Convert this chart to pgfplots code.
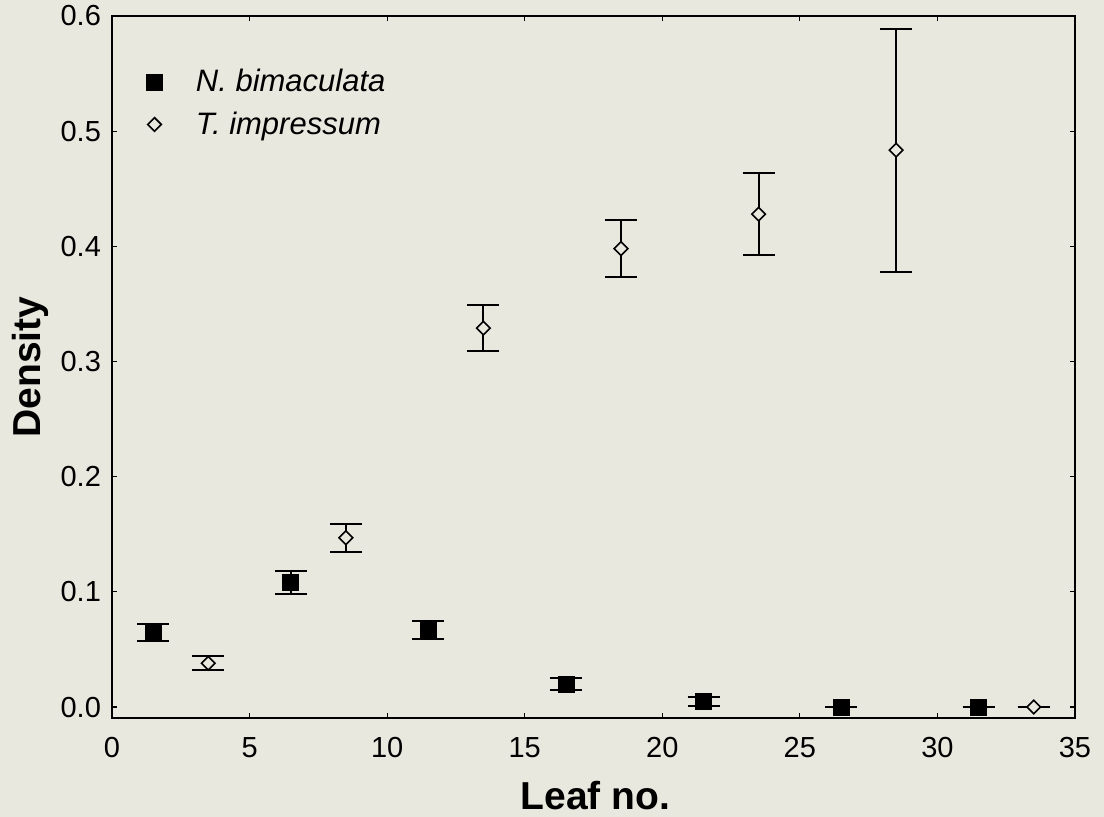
\documentclass[border=0pt]{standalone}
\usepackage{pgfplots}
\pgfplotsset{compat=1.18}
\usepackage{fontspec}
\setmainfont{Liberation Sans}
\usetikzlibrary{backgrounds}
\definecolor{bgc}{RGB}{232,232,223}

% N. bimaculata: x, mean, error
\pgfplotstableread{
x y e
1.5 0.065 0.0075
6.5 0.108 0.010
11.5 0.067 0.008
16.5 0.020 0.005
21.5 0.005 0.004
26.5 0.000 0.000
31.5 0.000 0.000
}\nbim
% T. impressum
\pgfplotstableread{
x y e
3.5 0.038 0.006
8.5 0.147 0.012
13.5 0.329 0.020
18.5 0.398 0.025
23.5 0.428 0.0355
28.5 0.4835 0.1055
33.5 0.000 0.000
}\timp

\begin{document}
\begin{tikzpicture}
\useasboundingbox (-56pt,-49.5pt) rectangle (496pt,359pt);
\begin{axis}[
  scale only axis,
  width=481.5pt, height=351pt,
  xmin=0, xmax=35, ymin=-0.0095, ymax=0.6,
  xtick={0,5,...,35},
  ytick={0,0.1,...,0.6},
  axis line style={line width=1pt},
  tick align=inside,
  major tick length=2.5pt,
  tick style={black, line width=0.6pt},
  tick label style={font=\fontsize{14.5}{17}\selectfont},
  /pgf/number format/assume math mode=true,
  yticklabel style={xshift=-2pt, /pgf/number format/fixed, /pgf/number format/fixed zerofill, /pgf/number format/precision=1},
  xticklabel style={yshift=-6pt},
  xlabel={Leaf no.}, ylabel={Density},
  every axis x label/.style={at={(axis description cs:0.502,-0.11)}, anchor=center, font=\fontsize{19.5}{23}\selectfont\bfseries},
  every axis y label/.style={at={(axis description cs:-0.085,0.5)}, rotate=90, anchor=center, font=\fontsize{19.5}{23}\selectfont\bfseries},
  legend style={draw=none, fill=none, at={(axis cs:0.68,0.561)}, anchor=north west,
    font=\fontsize{15.5}{18}\selectfont\itshape, row sep=4.5pt},
  legend cell align=left,
  legend image code/.code={\path (0cm,0cm) (0.95cm,0cm); \draw[#1] plot coordinates {(0.3cm,0cm)};},
  clip=false,
]
\addplot[only marks, mark=square*, mark size=4pt, mark options={black, fill=black},
  error bars/.cd, y dir=both, y explicit,
  error bar style={black, line width=1pt},
  error mark options={rotate=90, mark size=8pt, line width=1pt, black}]
  table[x=x, y=y, y error=e] {\nbim};
\addlegendentry{N. bimaculata}
\addplot[only marks, mark=square*, mark size=2.4pt, mark options={rotate=45, draw=black, fill=bgc, line width=0.8pt},
  error bars/.cd, y dir=both, y explicit,
  error bar style={black, line width=1pt},
  error mark options={rotate=90, mark size=8pt, line width=1pt, black}]
  table[x=x, y=y, y error=e] {\timp};
\addlegendentry{T. impressum}
\end{axis}
\begin{scope}[on background layer]
\fill[bgc] (-56pt,-49.5pt) rectangle (496pt,359pt);
\end{scope}
\end{tikzpicture}
\end{document}
